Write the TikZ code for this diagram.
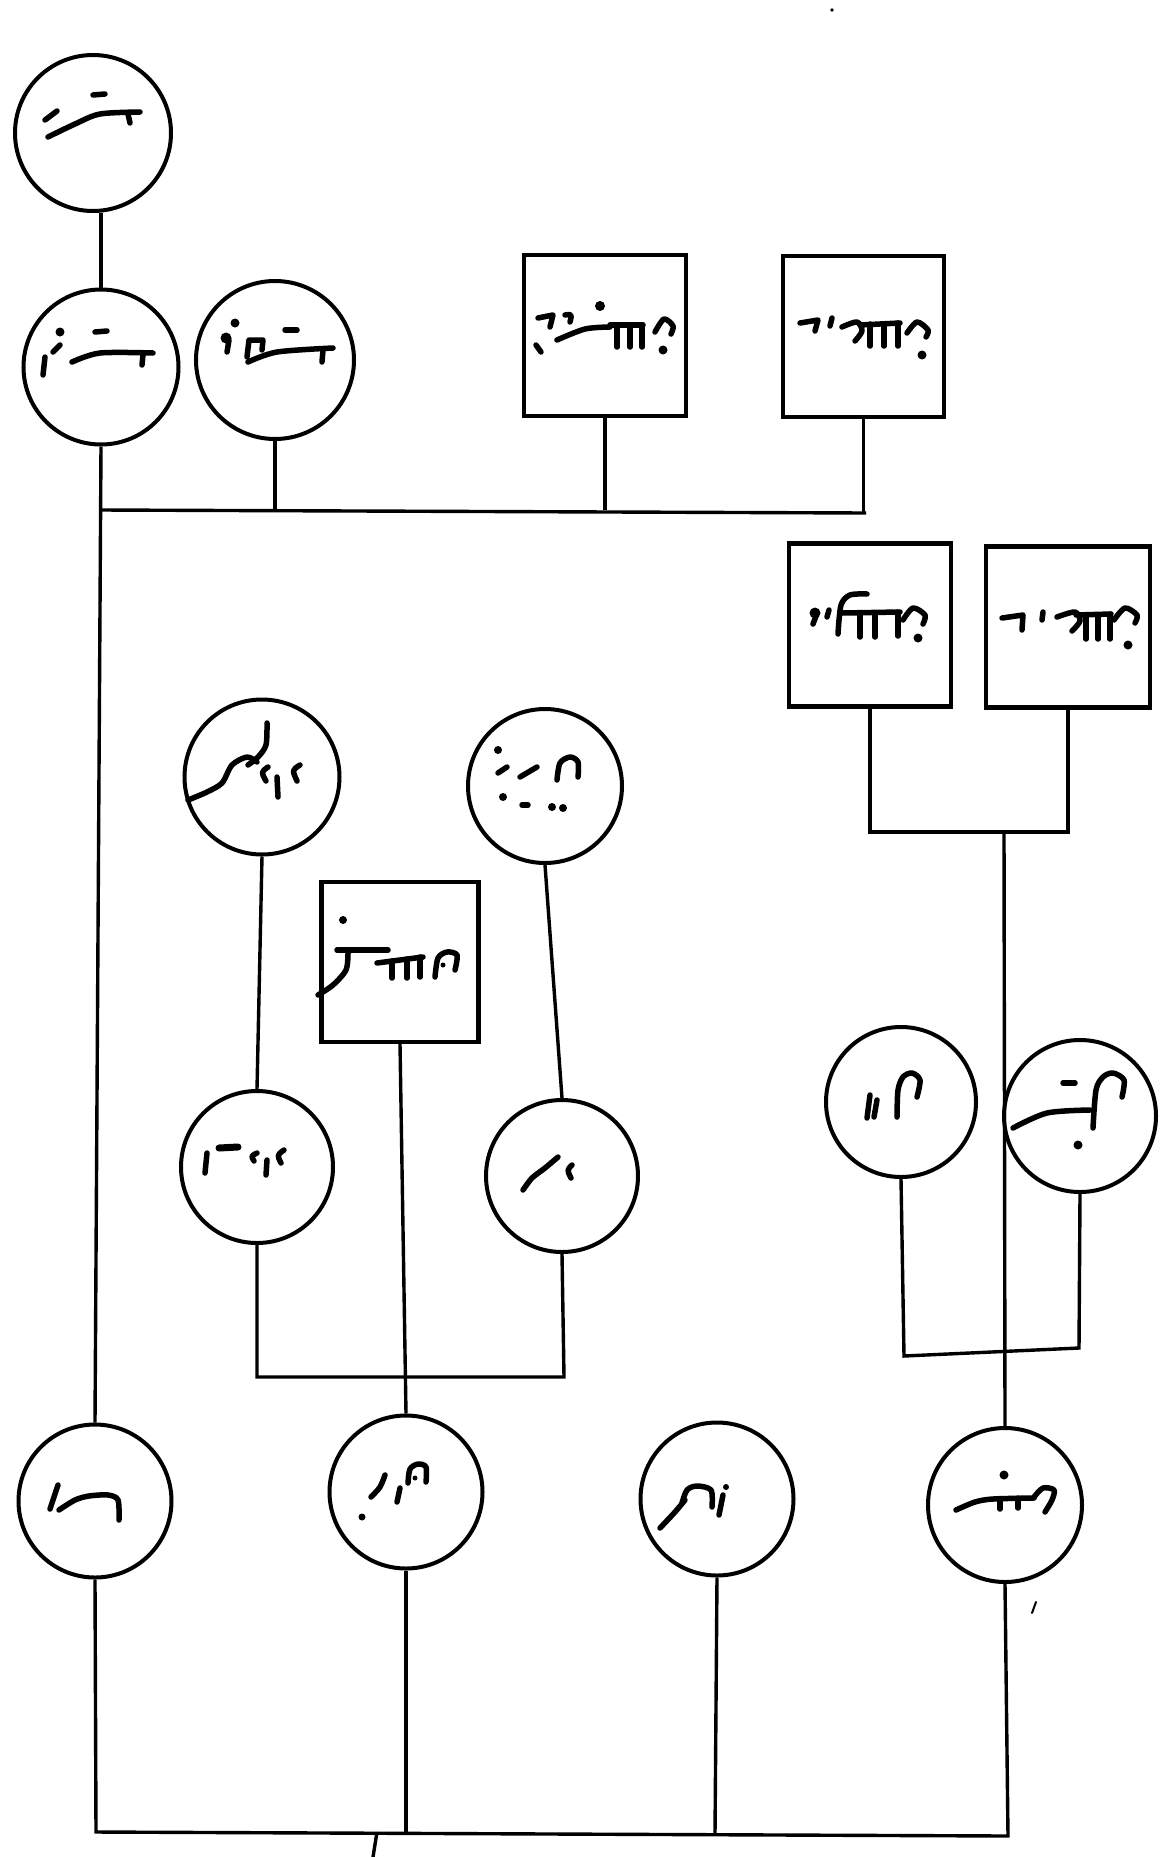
\documentclass[tikz,border=0pt]{standalone}
\begin{document}
\begin{tikzpicture}[x=1pt,y=-1pt,
  person/.style={circle,draw,line width=4pt,inner sep=0pt},
  mbox/.style={rectangle,draw,line width=4.2pt,inner sep=0pt},
  link/.style={line width=3.4pt},
  ink/.style={line width=5.5pt,line cap=round,line join=round}]
\useasboundingbox[fill=white] (0,0) rectangle (1162,1857);
% ---- nodes ----
\node[person,minimum size=156pt] (A) at (93,133) {};
\node[person,minimum size=155pt] (B) at (101,367) {};
\node[person,minimum size=158pt] (C) at (275,360) {};
\node[mbox,minimum width=162pt,minimum height=161pt] (D) at (605,335.5) {};
\node[mbox,minimum width=161pt,minimum height=161pt] (E) at (863.5,336.5) {};
\node[mbox,minimum width=162pt,minimum height=163pt] (F) at (870,625) {};
\node[mbox,minimum width=164pt,minimum height=161pt] (G) at (1068,627) {};
\node[person,minimum size=155pt] (H) at (262,777) {};
\node[person,minimum size=154pt] (I) at (545,786) {};
\node[mbox,minimum width=157pt,minimum height=160pt] (J) at (400,962) {};
\node[person,minimum size=152pt] (K) at (257,1167) {};
\node[person,minimum size=152pt] (L) at (562,1176) {};
\node[person,minimum size=150pt] (M) at (901,1102) {};
\node[person,minimum size=152pt] (N) at (1080,1116) {};
\node[person,minimum size=153pt] (O) at (95,1501) {};
\node[person,minimum size=153pt] (P) at (406,1492) {};
\node[person,minimum size=153pt] (Q) at (717,1499) {};
\node[person,minimum size=154pt] (R) at (1005,1505) {};
% ---- junction coordinates ----
\coordinate (j1) at (100,510);
\coordinate (j1r) at (866,513);
\coordinate (jfg) at (870,832);
\coordinate (jg) at (1068,832);
\coordinate (jfgd) at (1004,832);
\coordinate (jk) at (257,1377);
\coordinate (jl) at (564,1377);
\coordinate (jm) at (904,1356);
\coordinate (jn) at (1079,1348);
\coordinate (jb1) at (96,1832);
\coordinate (jb2) at (1008,1836);
\coordinate (stub) at (377,1832);
\coordinate (stubend) at (373,1857);
% ---- connectors ----
\draw[link] (A.south -| B.north) -- (B.north);
\draw[link] (B.south) -- (O.north);
\draw[link] (j1) -- (j1r);
\draw[link] (C.south) -- (C.south |- j1);
\draw[link] (D.south) -- (D.south |- j1);
\draw[link] (E.south) -- (E.south |- j1r);
\draw[link] (F.south) -- (jfg) -- (jg) -- (G.south);
\draw[link] (jfgd) -- (R.north);
\draw[link] (H.south) -- (K.north);
\draw[link] (I.south) -- (L.north);
\draw[link] (K.south) -- (jk) -- (jl) -- (L.south);
\draw[link] (J.south) -- (P.north);
\draw[link] (M.south) -- (jm) -- (jn) -- (N.south);
\draw[link] (O.south) -- (jb1) -- (jb2) -- (R.south);
\draw[link] (P.south) -- (P.south |- jb1);
\draw[link] (Q.south) -- (715,1834);
\draw[link] (stub) -- (stubend);
% stray marks
\fill (832,10) circle[radius=1.8];
\draw[line width=2pt,line cap=round] (1036,1602) -- (1032,1613);
% ---- handwritten labels (drawn strokes) ----
% A
\draw[ink] (45,120) -- (57,111);
\draw[ink] (93,95) -- (105,94);
\draw[ink] plot[smooth] coordinates {(48,137) (75,124) (100,114) (140,112)};
\draw[ink] (128,114) -- (130,123);
% B
\fill (60,332) circle[radius=4.5];
\draw[ink] (95,332) -- (107,331);
\draw[ink] (45,357) -- (43,375);
\draw[ink] (53,352) -- (60,345);
\draw[ink] plot[smooth] coordinates {(72,362) (100,353) (153,353)};
\draw[ink] (143,355) -- (142,365);
% C
\fill (235,323) circle[radius=4.5];
\fill (226,338) circle[radius=5.5];
\draw[ink] (229,340) -- (227,352);
\draw[ink] (247,357) -- (249,340) -- (263,340) -- (262,350);
\draw[ink] (285,330) -- (297,330);
\draw[ink] plot[smooth] coordinates {(248,362) (277,352) (333,348)};
\draw[ink] (323,350) -- (322,362);
% D
\draw[ink] (538,318) -- (553,315) -- (550,327);
\draw[ink] (536,345) -- (541,352);
\draw[ink] (565,315) .. controls (572,314) .. (570,322);
\draw[ink] plot[smooth] coordinates {(557,340) (585,329) (610,327)};
\fill (600,306) circle[radius=5];
\draw[ink] (610,325) -- (643,325);
\draw[ink] (617,325) -- (617,347);
\draw[ink] (630,325) -- (630,347);
\draw[ink] (642,325) -- (642,347);
\draw[ink] plot[smooth] coordinates {(655,332) (664,319) (673,326) (671,334)};
\fill (663,350) circle[radius=4.5];
% E
\draw[ink] (800,323) -- (818,320) -- (815,331);
\draw[ink] (832,318) -- (830,326);
\draw[ink] plot[smooth] coordinates {(842,327) (857,322) (862,331) (855,341)};
\draw[ink] (860,325) -- (900,323);
\draw[ink] (870,324) -- (870,346);
\draw[ink] (884,324) -- (884,346);
\draw[ink] (898,323) -- (898,346);
\draw[ink] plot[smooth] coordinates {(907,333) (917,322) (928,330) (926,337)};
\fill (922,355) circle[radius=4.5];
% F
\fill (815,613) circle[radius=5.5];
\draw[ink] (816,616) -- (813,624);
\draw[ink] (829,610) -- (827,617);
\draw[ink] plot[smooth] coordinates {(838,634) (841,605) (850,595) (867,594)};
\draw[ink] (842,613) -- (900,612);
\draw[ink] (860,613) -- (860,637);
\draw[ink] (875,613) -- (875,637);
\draw[ink] (898,612) -- (898,636);
\draw[ink] plot[smooth] coordinates {(903,620) (913,608) (925,615) (923,624)};
\fill (918,638) circle[radius=4.5];
% G
\draw[ink] (1002,618) -- (1023,615) -- (1022,630);
\draw[ink] (1043,612) -- (1042,620);
\draw[ink] plot[smooth] coordinates {(1057,617) (1075,612) (1080,621) (1072,631)};
\draw[ink] (1076,615) -- (1111,614);
\draw[ink] (1086,615) -- (1086,639);
\draw[ink] (1098,615) -- (1098,639);
\draw[ink] (1110,614) -- (1110,639);
\draw[ink] plot[smooth] coordinates {(1114,620) (1125,608) (1137,615) (1135,623)};
\fill (1128,645) circle[radius=4.5];
% H
\draw[ink] plot[smooth] coordinates {(267,723) (266,745) (258,757) (248,765)};
\draw[ink] plot[smooth] coordinates {(188,800) (207,792) (222,783) (232,765) (247,757) (257,762)};
\draw[ink] (268,767) .. controls (261,772) .. (266,781);
\draw[ink] (277,777) -- (278,797);
\draw[ink] (300,765) .. controls (292,770) .. (297,781);
% I
\fill (498,750) circle[radius=4];
\fill (503,797) circle[radius=4];
\draw[ink] (522,805) -- (528,805);
\fill (552,807) circle[radius=4];
\fill (563,808) circle[radius=4];
\draw[ink] (498,773) -- (507,767);
\draw[ink] (520,777) -- (537,767);
\draw[ink] plot[smooth] coordinates {(557,780) (560,763) (570,757) (578,762) (578,777)};
% J
\fill (343,920) circle[radius=4];
\draw[ink] (337,950) -- (388,950);
\draw[ink] plot[smooth] coordinates {(348,953) (346,970) (333,985) (318,995)};
\draw[ink] (377,963) -- (423,957);
\draw[ink] (392,961) -- (392,978);
\draw[ink] (407,959) -- (407,978);
\draw[ink] (420,957) -- (420,977);
\draw[ink] plot[smooth] coordinates {(435,977) (438,958) (447,952) (457,955) (455,970)};
\fill (443,965) circle[radius=2.5];
% K
\draw[ink] (207,1153) -- (205,1173);
\draw[ink,line width=7pt] (219,1148) -- (238,1147);
\draw[ink] (257,1153) .. controls (251,1156) .. (254,1161);
\draw[ink] (267,1160) -- (266,1175);
\draw[ink] (284,1150) .. controls (277,1155) .. (281,1163);
% L
\draw[ink] plot[smooth] coordinates {(523,1190) (532,1178) (545,1168) (558,1157)};
\draw[ink] (572,1165) .. controls (567,1170) .. (571,1178);
% M
\draw[ink] (870,1095) -- (867,1118);
\draw[ink] (877,1100) -- (874,1117);
\draw[ink] plot[smooth] coordinates {(897,1117) (898,1090) (903,1077) (912,1073) (920,1080) (917,1097)};
% N
\draw[ink] (1063,1083) -- (1075,1083);
\draw[ink] plot[smooth] coordinates {(1013,1128) (1047,1113) (1090,1110)};
\draw[ink] plot[smooth] coordinates {(1093,1128) (1096,1090) (1103,1077) (1113,1073) (1124,1080) (1122,1097)};
\fill (1078,1145) circle[radius=4.5];
% O
\draw[ink] (58,1485) -- (50,1509);
\draw[ink] plot[smooth] coordinates {(59,1510) (75,1500) (89,1496) (108,1495) (118,1500) (119,1520)};
% P
\draw[ink] plot[smooth] coordinates {(385,1475) (380,1487) (371,1497)};
\fill (362,1517) circle[radius=3.5];
\draw[ink] (400,1488) -- (397,1502);
\draw[ink] plot[smooth] coordinates {(408,1483) (410,1469) (418,1464) (426,1467) (426,1482)};
\fill (415,1478) circle[radius=2.5];
% Q
\draw[ink] plot[smooth] coordinates {(660,1528) (675,1512) (685,1500)};
\draw[ink] plot[smooth] coordinates {(682,1503) (687,1490) (697,1486) (711,1490) (712,1507)};
\draw[ink] (723,1495) -- (719,1515);
\fill (726,1487) circle[radius=3];
% R
\draw[ink] plot[smooth] coordinates {(956,1510) (975,1502) (993,1499) (1034,1498)};
\fill (1004,1475) circle[radius=4.5];
\draw[ink] plot[smooth] coordinates {(1034,1497) (1043,1488) (1054,1490) (1052,1500) (1045,1512)};
\draw[ink] (1000,1499) -- (1000,1509);
\draw[ink] (1018,1498) -- (1018,1508);
\end{tikzpicture}
\end{document}
